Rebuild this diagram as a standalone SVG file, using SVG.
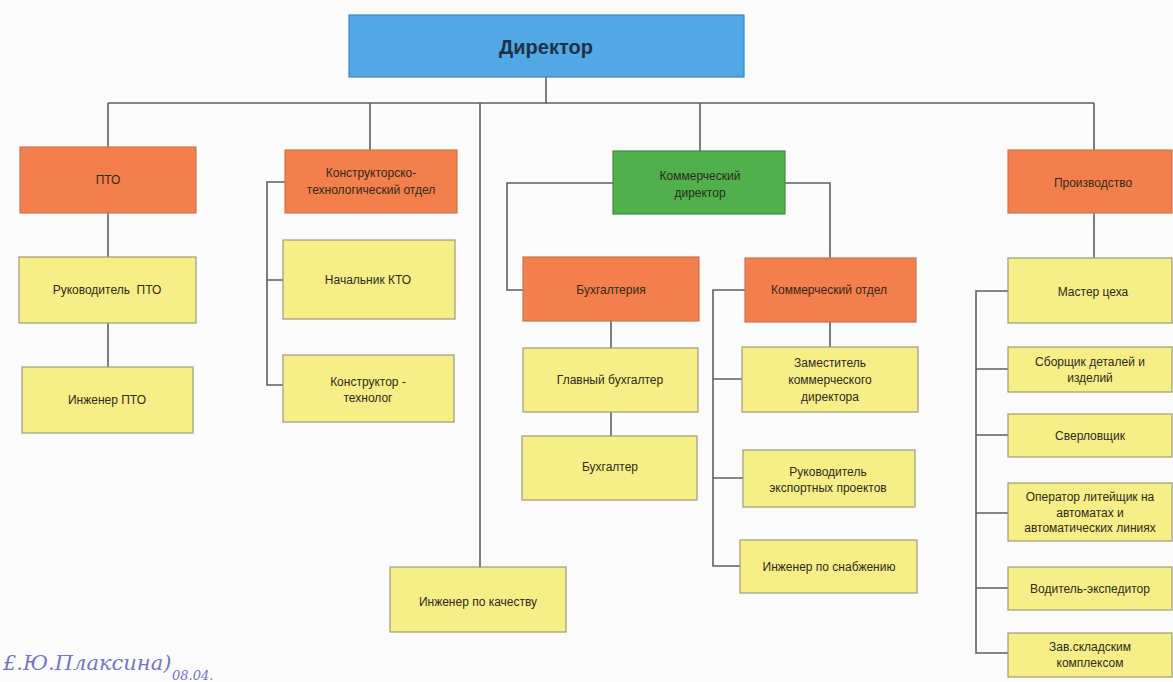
<svg xmlns="http://www.w3.org/2000/svg" width="1173" height="682" viewBox="0 0 1173 682">
<style>
.bx{stroke:#a09a78;stroke-width:1.2}
.y{fill:#f6ef88}
.o{fill:#f27f4c;stroke:#c9774e}
.g{fill:#4fb04c;stroke:#3f8f3c}
.b{fill:#52a7e6;stroke:#3f86bf}
.t{font-family:"Liberation Sans",Arial,sans-serif;font-size:12px;fill:#2e2a1c;text-anchor:middle}
.c{fill:none;stroke:#5c5f60;stroke-width:1.6}
.sig{font-family:"DejaVu Serif",serif;font-style:italic;fill:#4a4ab0;opacity:0.75}
</style>
<rect width="1173" height="682" fill="#fbfbfb"/>

<g id="connectors" class="c">
<path d="M546 77V103M108 103H1094M108 103V147M370 103V150M480 103V567M700 103V151M1094 103V150"/>
<path d="M108 213V257M108 323V367"/>
<path d="M285 182H267V385H283M267 280H283"/>
<path d="M613 183H507V290H523M785 183H830V258"/>
<path d="M611 321V348M611 412V436"/>
<path d="M830 322V347M745 290H713V566H740M713 379H742M713 478H743"/>
<path d="M1094 213V258M1008 291H976V653H1008M976 369H1008M976 435H1008M976 513H1008M976 588H1008"/>
</g>

<g id="director"><rect class="bx b" x="349" y="15" width="395" height="62"/><text class="t" x="546" y="54" style="font-size:20px;font-weight:bold;fill:#1e3246">Директор</text></g>

<g id="pto"><rect class="bx o" x="20" y="147" width="176" height="66"/><text class="t" x="108" y="184">ПТО</text></g>
<g id="kto"><rect class="bx o" x="285" y="150" width="172" height="63"/><text class="t" x="371" y="177">Конструкторско-</text><text class="t" x="371" y="194">технологический отдел</text></g>
<g id="comdir"><rect class="bx g" x="613" y="151" width="172" height="63"/><text class="t" x="700" y="180">Коммерческий</text><text class="t" x="700" y="197">директор</text></g>
<g id="prod"><rect class="bx o" x="1008" y="150" width="164" height="63"/><text class="t" x="1093" y="187">Производство</text></g>

<g id="ruk_pto"><rect class="bx y" x="19" y="257" width="177" height="66"/><text class="t" x="107" y="294" xml:space="preserve">Руководитель  ПТО</text></g>
<g id="ing_pto"><rect class="bx y" x="22" y="367" width="171" height="66"/><text class="t" x="107" y="404">Инженер ПТО</text></g>

<g id="nach_kto"><rect class="bx y" x="283" y="240" width="172" height="79"/><text class="t" x="368" y="284">Начальник КТО</text></g>
<g id="konstr"><rect class="bx y" x="283" y="355" width="171" height="67"/><text class="t" x="368" y="386">Конструктор -</text><text class="t" x="368" y="402">технолог</text></g>

<g id="ing_kach"><rect class="bx y" x="390" y="567" width="176" height="65"/><text class="t" x="478" y="606">Инженер по качеству</text></g>

<g id="buh"><rect class="bx o" x="523" y="257" width="176" height="64"/><text class="t" x="611" y="294">Бухгалтерия</text></g>
<g id="glbuh"><rect class="bx y" x="523" y="348" width="175" height="64"/><text class="t" x="610" y="384">Главный бухгалтер</text></g>
<g id="buhg"><rect class="bx y" x="522" y="436" width="175" height="64"/><text class="t" x="610" y="471">Бухгалтер</text></g>

<g id="komotd"><rect class="bx o" x="745" y="258" width="171" height="64"/><text class="t" x="829" y="294">Коммерческий отдел</text></g>
<g id="zam"><rect class="bx y" x="742" y="347" width="176" height="65"/><text class="t" x="830" y="367">Заместитель</text><text class="t" x="830" y="384">коммерческого</text><text class="t" x="830" y="401">директора</text></g>
<g id="rukexp"><rect class="bx y" x="743" y="450" width="172" height="57"/><text class="t" x="828" y="476">Руководитель</text><text class="t" x="828" y="492">экспортных проектов</text></g>
<g id="ingsnab"><rect class="bx y" x="740" y="540" width="177" height="53"/><text class="t" x="829" y="571">Инженер по снабжению</text></g>

<g id="master"><rect class="bx y" x="1008" y="258" width="164" height="65"/><text class="t" x="1093" y="296">Мастер цеха</text></g>
<g id="sborsh"><rect class="bx y" x="1008" y="347" width="164" height="45"/><text class="t" x="1090" y="366">Сборщик деталей и</text><text class="t" x="1090" y="382">изделий</text></g>
<g id="sverl"><rect class="bx y" x="1008" y="414" width="164" height="43"/><text class="t" x="1090" y="440">Сверловщик</text></g>
<g id="operator"><rect class="bx y" x="1008" y="483" width="164" height="58"/><text class="t" x="1090" y="501">Оператор литейщик на</text><text class="t" x="1090" y="517">автоматах и</text><text class="t" x="1090" y="532">автоматических линиях</text></g>
<g id="voditel"><rect class="bx y" x="1008" y="567" width="164" height="43"/><text class="t" x="1090" y="593">Водитель-экспедитор</text></g>
<g id="zav"><rect class="bx y" x="1008" y="633" width="164" height="44"/><text class="t" x="1090" y="651">Зав.складским</text><text class="t" x="1090" y="667">комплексом</text></g>

<text class="sig" x="3" y="670" style="font-size:21px">£.Ю.Плаксина)</text>
<text class="sig" x="172" y="680" style="font-size:13px">08.04.</text>
</svg>
